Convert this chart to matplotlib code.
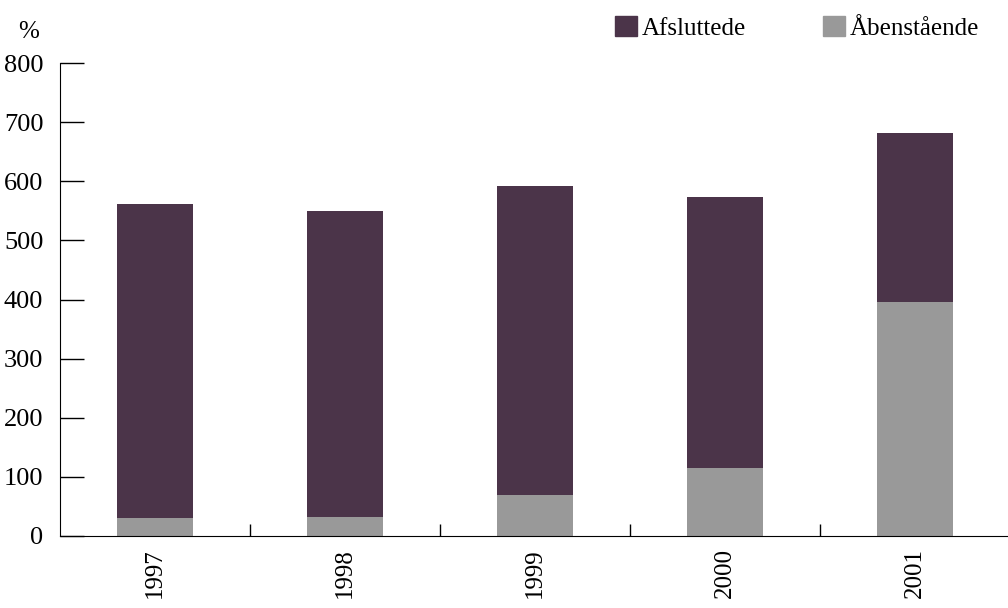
import matplotlib.pyplot as plt
from matplotlib.patches import Patch
import numpy as np

plt.rcParams['font.family'] = ['Liberation Serif', 'DejaVu Serif']

years = ['1997', '1998', '1999', '2000', '2001']
aabenstaaende = [30, 32, 69, 115, 395]
afsluttede = [531, 518, 523, 458, 287]

c_dark = '#4b3449'
c_gray = '#999999'

fig = plt.figure(figsize=(10.08, 6.08), dpi=100)
ax = fig.add_axes([60 / 1008, 72 / 608, 950 / 1008, 473 / 608])

x = np.arange(len(years))
ax.bar(x, aabenstaaende, 0.405, color=c_gray, linewidth=0)
ax.bar(x, afsluttede, 0.405, bottom=aabenstaaende, color=c_dark, linewidth=0)

ax.set_xlim(-0.5, len(years) - 0.5)
ax.set_ylim(0, 800)
ax.set_yticks(range(0, 801, 100))
ax.set_xticks(x)
ax.set_xticklabels(years, rotation=90, fontsize=18)
ax.set_xticks(np.arange(0.5, len(years) - 0.5, 1), minor=True)
ax.tick_params(axis='x', which='major', length=0, pad=9)
ax.tick_params(axis='x', which='minor', direction='in', length=9, width=1)
ax.tick_params(axis='y', direction='in', length=17, width=1, pad=12, labelsize=19)

for s in ['top', 'right']:
    ax.spines[s].set_visible(False)

fig.text(29 / 1008, 1 - 32 / 608, '%', fontsize=18, ha='center', va='center')

handles = [Patch(color=c_dark, label='Afsluttede'),
           Patch(color=c_gray, label='Åbenstående')]
ax.legend(handles=handles, ncol=2, frameon=False, fontsize=18,
          loc='upper right', bbox_to_anchor=(989 / 1008, 1 - 6 / 608),
          bbox_transform=fig.transFigure, handlelength=0.85, handleheight=0.85,
          handletextpad=0.2, columnspacing=3.1, borderaxespad=0)

fig.savefig('out.png', dpi=100)
